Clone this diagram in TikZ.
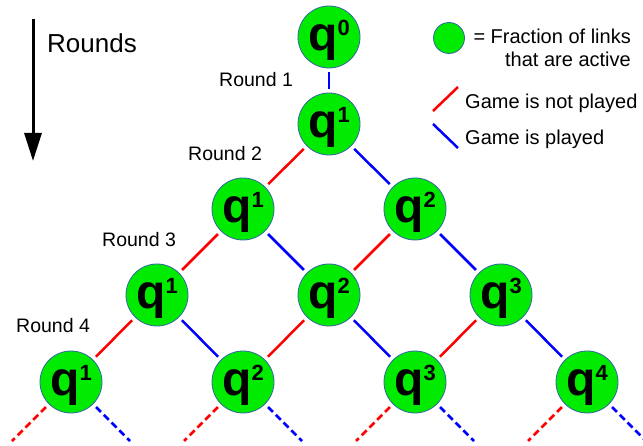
\documentclass[tikz,border=0pt]{standalone}
\usepackage{fontspec}
\setmainfont{Liberation Sans}
\usetikzlibrary{arrows.meta}

\definecolor{nodegreen}{RGB}{0,235,0}
\definecolor{rimblue}{RGB}{52,101,164}

\newcommand{\qlab}[1]{{\fontsize{48}{48}\selectfont\bfseries q}\raisebox{15pt}{\fontsize{22}{22}\selectfont\bfseries #1}}

\tikzset{
    qnode/.style={circle, draw=rimblue, line width=0.8pt, fill=nodegreen, minimum size=62pt, inner sep=0pt, text height=32pt, text depth=5pt},
    played/.style={blue, line width=2.5pt, shorten <=4pt, shorten >=4pt},
    notplayed/.style={red, line width=2.5pt, shorten <=4pt, shorten >=4pt},
    later/.style={dash pattern=on 7pt off 4pt, shorten >=0pt},
    roundlab/.style={anchor=base west, inner sep=0pt, font=\fontsize{19.5}{19.5}\selectfont},
    keylab/.style={anchor=base west, inner sep=0pt, font=\fontsize{20}{23}\selectfont}
}

\begin{document}
\begin{tikzpicture}[x=1pt, y=-1pt]
        \clip (0,0) rectangle (643,446);

        % time axis
        \coordinate (axtop) at (33,19);
        \coordinate (axend) at (33,161);
        \draw[line width=3pt, -{Triangle[length=28pt, width=17pt]}] (axtop) -- (axend);
        \node[anchor=base west, inner sep=0pt, font=\fontsize{26}{26}\selectfont] (rounds) at (47,53) {Rounds};

        % the tree
        \node[qnode] (top) at (329,37) {\qlab{0}};
        \node[qnode] (r1) at (329,124) {\qlab{1}};
        \node[qnode] (r2a) at (243,209) {\qlab{1}};
        \node[qnode] (r2b) at (415,209) {\qlab{2}};
        \node[qnode] (r3a) at (157,295) {\qlab{1}};
        \node[qnode] (r3b) at (329,295) {\qlab{2}};
        \node[qnode] (r3c) at (501,295) {\qlab{3}};
        \node[qnode] (r4a) at (71,382) {\qlab{1}};
        \node[qnode] (r4b) at (243,382) {\qlab{2}};
        \node[qnode] (r4c) at (415,382) {\qlab{3}};
        \node[qnode] (r4d) at (587,382) {\qlab{4}};

        \node[roundlab] (lab1) at (219,87) {Round 1};
        \node[roundlab] (lab2) at (188,161) {Round 2};
        \node[roundlab] (lab3) at (102,247) {Round 3};
        \node[roundlab] (lab4) at (16,333) {Round 4};

        \draw[played] (top) -- (r1);
        \draw[notplayed] (r1) -- (r2a);
        \draw[played] (r1) -- (r2b);
        \draw[notplayed] (r2a) -- (r3a);
        \draw[played] (r2a) -- (r3b);
        \draw[notplayed] (r2b) -- (r3b);
        \draw[played] (r2b) -- (r3c);
        \draw[notplayed] (r3a) -- (r4a);
        \draw[played] (r3a) -- (r4b);
        \draw[notplayed] (r3b) -- (r4b);
        \draw[played] (r3b) -- (r4c);
        \draw[notplayed] (r3c) -- (r4c);
        \draw[played] (r3c) -- (r4d);

        % rounds that follow
        \coordinate (e1) at (12,441);
        \coordinate (e2) at (130,441);
        \coordinate (e3) at (184,441);
        \coordinate (e4) at (302,441);
        \coordinate (e5) at (356,441);
        \coordinate (e6) at (474,441);
        \coordinate (e7) at (528,441);
        \coordinate (e8) at (646,441);
        \draw[notplayed, later] (r4a) -- (e1);
        \draw[played, later] (r4a) -- (e2);
        \draw[notplayed, later] (r4b) -- (e3);
        \draw[played, later] (r4b) -- (e4);
        \draw[notplayed, later] (r4c) -- (e5);
        \draw[played, later] (r4c) -- (e6);
        \draw[notplayed, later] (r4d) -- (e7);
        \draw[played, later] (r4d) -- (e8);

        % key
        \node[circle, draw=rimblue, line width=0.8pt, fill=nodegreen, minimum size=31pt, inner sep=0pt] (key) at (449,38) {};
        \node[anchor=base east, inner sep=0pt, align=right, font=\fontsize{20}{23}\selectfont] (keytext) at (631,67) {= Fraction of links\\that are active};
        \draw[red, line width=2.5pt] (433,111) -- (458,87);
        \draw[blue, line width=2.5pt] (433,124) -- (458,148);
        \node[keylab] (keyred) at (465,109) {Game is not played};
        \node[keylab] (keyblue) at (465,145) {Game is played};
\end{tikzpicture}
\end{document}
